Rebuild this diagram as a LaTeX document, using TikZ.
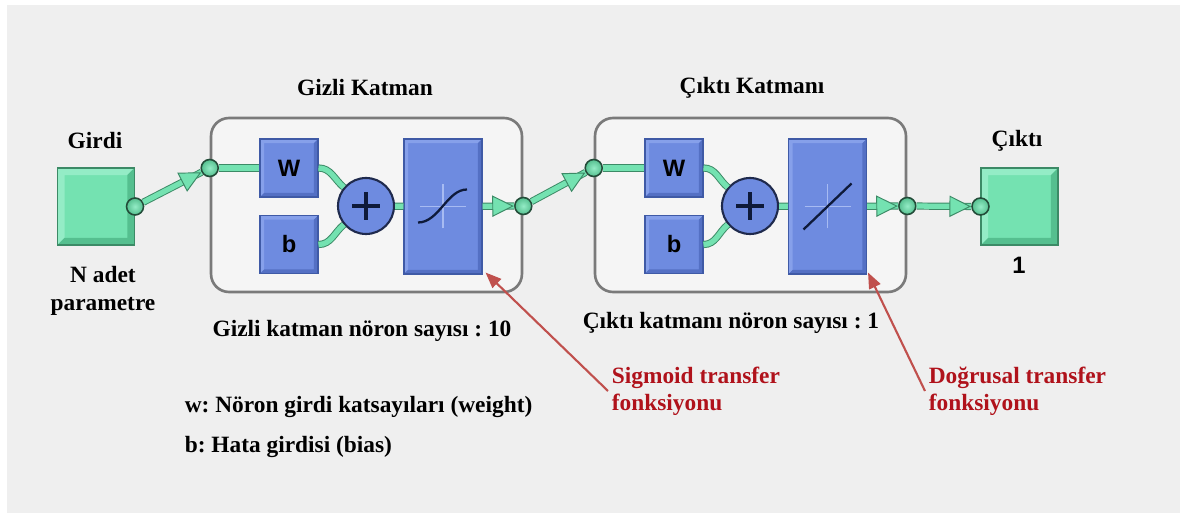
\documentclass[tikz,border=0pt]{standalone}
\usepackage{fontspec}
\setmainfont{Liberation Serif}
\newfontfamily\arialfont{Liberation Sans}
\usepackage{tikz}
\usetikzlibrary{arrows.meta, calc, positioning, shapes.geometric}
\frenchspacing
\definecolor{panelbg}{HTML}{EFEFEF}
\definecolor{layerfill}{HTML}{F5F5F5}
\definecolor{layerrim}{HTML}{7A7A7A}
\definecolor{mint}{HTML}{74E2B1}
\definecolor{mintlt}{HTML}{94ECC6}
\definecolor{mintdk}{HTML}{55BF8F}
\definecolor{mintrim}{HTML}{3C8A66}
\definecolor{portrim}{HTML}{234C39}
\definecolor{nblue}{HTML}{6E8BE0}
\definecolor{nbluelt}{HTML}{86A0EA}
\definecolor{nbluedk}{HTML}{5470C4}
\definecolor{nbluerim}{HTML}{3F5AA6}
\definecolor{sumrim}{HTML}{1F2A4D}
\definecolor{glyph}{HTML}{0E1A3A}
\definecolor{glyphaxis}{HTML}{A7BBF2}
\definecolor{notered}{HTML}{B0121B}
\definecolor{notearrow}{HTML}{C0504D}
\tikzset{
  % two-tone rim: light top/left, dark bottom/right
  bevel/.style n args={3}{path picture={
    \fill[#1] (path picture bounding box.south west)
      -- (path picture bounding box.north west)
      -- (path picture bounding box.north east)
      -- ([shift={(-#3,-#3)}]path picture bounding box.north east)
      -- ([shift={(#3,-#3)}]path picture bounding box.north west)
      -- ([shift={(#3,#3)}]path picture bounding box.south west) -- cycle;
    \fill[#2] (path picture bounding box.south west)
      -- (path picture bounding box.south east)
      -- (path picture bounding box.north east)
      -- ([shift={(-#3,-#3)}]path picture bounding box.north east)
      -- ([shift={(-#3,#3)}]path picture bounding box.south east)
      -- ([shift={(#3,#3)}]path picture bounding box.south west) -- cycle;}},
  iosquare/.style  = {rectangle, fill=mint, draw=mintrim, line width=0.6pt,
                      minimum size=1.54cm, inner sep=0pt,
                      bevel={mintlt}{mintdk}{4pt}},
  port/.style      = {circle, inner color=mintlt, outer color=mintdk,
                      draw=portrim, line width=0.9pt,
                      minimum size=0.34cm, inner sep=0pt},
  layerbox/.style  = {rectangle, rounded corners=0.36cm, fill=layerfill,
                      draw=layerrim, line width=1.5pt,
                      minimum width=6.22cm, minimum height=3.48cm},
  wbox/.style      = {rectangle, fill=nblue, draw=nbluerim, line width=0.6pt,
                      minimum size=1.16cm, inner sep=0pt,
                      bevel={nbluelt}{nbluedk}{2.3pt},
                      font=\arialfont\fontsize{13.5}{16}\selectfont\bfseries},
  tfbox/.style     = {wbox, minimum width=1.56cm, minimum height=2.7cm},
  sumnode/.style   = {circle, fill=nblue, draw=sumrim, line width=1.2pt,
                      minimum size=1.12cm, inner sep=0pt},
  wire/.style      = {draw=mintrim, line width=0.55pt, double=mint,
                      double distance=3pt},
  arrowmark/.style = {isosceles triangle, isosceles triangle stretches,
                      fill=mint, draw=mintrim, line width=0.55pt,
                      minimum width=0.4cm, minimum height=0.4cm,
                      inner sep=0pt},
  lbl/.style       = {font=\fontsize{13.3}{15.6}\selectfont\bfseries,
                      inner sep=2pt},
  redlbl/.style    = {lbl, text=notered, align=left},
  notearr/.style   = {draw=notearrow, line width=1.2pt,
                      -{Triangle[length=9pt, width=7pt]}},
}

\begin{document}
\begin{tikzpicture}[x=0.02cm, y=0.02cm]
  \useasboundingbox (0,0) rectangle (1180,-513);
  \fill[panelbg] (7,-5) rectangle (1180,-513);

  % input
  \node[lbl] (girdi) at (95,-141) {Girdi};
  \node[iosquare] (inp) at (96,-206.5) {};
  \node[port] (inpdot) at (inp.east) {};
  \node[lbl, align=center] (npar) at (103,-291) {N adet\\parametre};

  % hidden layer
  \node[lbl] (hidtitle) at (365,-88) {Gizli Katman};
  \node[layerbox] (hid) at (366.5,-205) {};
  \node[wbox] (hidW) at (289,-168) {W};
  \node[wbox] (hidb) at (289,-244.5) {b};
  \node[sumnode] (hidsum) at (366,-206) {};
  \node[tfbox] (hidtf) at (443,-206.5) {};
  \node[port] (hidin) at (hid.west |- hidW) {};
  \node[port] (hidout) at (hid.east |- hidsum) {};
  \node[lbl] (hidcount) at (362,-331) {Gizli katman nöron sayısı : 10};

  % output layer
  \node[lbl] (outtitle) at (752,-88) {Çıktı Katmanı};
  \node[layerbox] (outl) at (750.5,-205) {};
  \node[wbox] (outW) at (674,-168) {W};
  \node[wbox] (outb) at (674,-244.5) {b};
  \node[sumnode] (outsum) at (750,-206) {};
  \node[tfbox] (outtf) at (827.5,-206.5) {};
  \node[port] (outin) at (outl.west |- outW) {};
  \node[port] (outout) at (outl.east |- outsum) {};
  \node[lbl, anchor=west] (outcount) at (579,-323) {Çıktı katmanı nöron sayısı : 1};

  % output
  \node[lbl] (cikti) at (1017,-141) {Çıktı};
  \node[iosquare] (outsq) at (1019.5,-206.5) {};
  \node[port] (outdot) at (outsq.west) {};
  \node[font=\arialfont\fontsize{13.5}{16}\selectfont\bfseries] (outsize) at (1019,-265) {1};

  % plus signs and transfer glyphs
  \foreach \s in {hidsum, outsum} {
    \draw[glyph, line width=1.9pt, shift={(\s.center)}] (-14,0) -- (14,0) (0,-14) -- (0,14);
  }
  \foreach \t in {hidtf, outtf} {
    \draw[glyphaxis, line width=0.9pt, shift={(\t.center)}] (-23,0) -- (23,0) (0,-22) -- (0,22);
  }
  \draw[glyph, line width=1.3pt, shift={(hidtf.center)}]
    (-25,-16) .. controls (-4,-16) and (4,17) .. (24,17);
  \draw[glyph, line width=1.3pt, shift={(outtf.center)}]
    (-24,-23) -- (24,23);

  % wiring
  \draw[wire] (inpdot) -- node[pos=1, sloped, anchor=apex, arrowmark] {} (hidin);
  \draw[wire] (hidin) -- (hidW);
  \draw[wire] (hidW.east) to[out=0, in=140] (hidsum);
  \draw[wire] (hidb.east) to[out=0, in=-140] (hidsum);
  \draw[wire] (hidsum) -- (hidtf);
  \draw[wire] (hidtf) -- node[pos=1, sloped, anchor=apex, arrowmark] {} (hidout);
  \draw[wire] (hidout) -- node[pos=1, sloped, anchor=apex, arrowmark] {} (outin);
  \draw[wire] (outin) -- (outW);
  \draw[wire] (outW.east) to[out=0, in=140] (outsum);
  \draw[wire] (outb.east) to[out=0, in=-140] (outsum);
  \draw[wire] (outsum) -- (outtf);
  \draw[wire] (outtf) -- node[pos=1, sloped, anchor=apex, arrowmark] {} (outout);
  \draw[wire] (outout) -- node[pos=1, sloped, anchor=apex, arrowmark] {} (outdot);

  % notes
  \node[redlbl, anchor=west] (sigtxt) at (608,-391) {Sigmoid transfer\\fonksiyonu};
  \node[redlbl, anchor=west] (lintxt) at (925,-391) {Doğrusal transfer\\fonksiyonu};
  \coordinate (sigtip) at ([shift={(3,2)}]hidtf.south east);
  \coordinate (lintip) at ([shift={(1,2)}]outtf.south east);
  \draw[notearr] (sigtxt.west) -- (sigtip);
  \draw[notearr] (lintxt.west) -- (lintip);

  \node[lbl, anchor=west] (wkey) at (181,-407) {w: Nöron girdi katsayıları (weight)};
  \node[lbl, anchor=west] (bkey) at (181,-447) {b: Hata girdisi (bias)};
\end{tikzpicture}
\end{document}
